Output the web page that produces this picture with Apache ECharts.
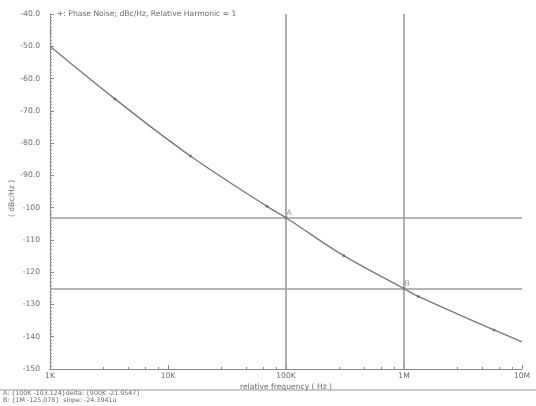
<!DOCTYPE html>
<html><head><meta charset="utf-8">
<script src="https://cdn.jsdelivr.net/npm/echarts@6/dist/echarts.min.js"></script>
<style>html,body{margin:0;padding:0;background:#fff}#c{width:536px;height:406px}</style>
</head><body><div id="c"></div>
<script>
// Data
const freqs = [1e3, 3.55e3, 15.5e3, 69e3, 1e5, 309e3, 1e6, 1.32e6, 5.8e6, 1e7];
const noise = [-50, -66.3, -84.0, -99.6, -103.124, -114.9, -125.078, -127.5, -137.9, -141.6];
const markerFreqs = [3.55e3, 15.5e3, 69e3, 309e3, 1.32e6, 5.8e6];
const markerNoise = [-66.3, -84.0, -99.6, -114.9, -127.5, -137.9];
const cursorNames = ['A', 'B'];
const cursorFreqs = [1e5, 1e6];
const cursorNoise = [-103.124, -125.078];
const xTickLabels = {1e3: '1K', 1e4: '10K', 1e5: '100K', 1e6: '1M', 1e7: '10M'};
const titleText = '+: Phase Noise; dBc/Hz, Relative Harmonic = 1';
const footA = 'A: {100K -103.124}delta: {900K -21.9547}';
const footB = 'B: {1M -125.078}  slope: -24.3941u';

const FONT = 'DejaVu Sans';
const TXT = '#6a6a6a';
const chart = echarts.init(document.getElementById('c'));
chart.setOption({
  animation: false,
  backgroundColor: '#fff',
  title: {text: titleText, left: 52, top: 5,
    textStyle: {fontFamily: FONT, fontSize: 7.6, fontWeight: 'normal', color: TXT}},
  grid: {left: 50, right: 14, top: 14, bottom: 37, containLabel: false, outerBoundsMode: 'none'},
  xAxis: {
    type: 'log', logBase: 10, min: 1e3, max: 1e7,
    name: 'relative frequency ( Hz )', nameLocation: 'middle', nameGap: 14, nameMoveOverlap: false,
    nameTextStyle: {fontFamily: FONT, fontSize: 7.6, color: TXT},
    axisLine: {lineStyle: {color: '#888', width: 1}},
    axisTick: {inside: true, length: 4, lineStyle: {color: '#888'}},
    minorTick: {show: true, splitNumber: 5, length: 2, lineStyle: {color: '#999'}},
    axisLabel: {fontFamily: FONT, fontSize: 7.6, color: TXT, margin: 3,
      formatter: v => xTickLabels[Math.round(v)] || ''},
    splitLine: {show: false}
  },
  yAxis: {
    type: 'value', min: -150, max: -40, interval: 10,
    name: '( dBc/Hz )', nameLocation: 'middle', nameGap: 34, nameRotate: 90, nameMoveOverlap: false,
    nameTextStyle: {fontFamily: FONT, fontSize: 7.6, color: TXT, padding: [0, 0, 0, -14]},
    axisLine: {show: true, lineStyle: {color: '#888', width: 1}},
    axisTick: {show: true, inside: true, length: 4, lineStyle: {color: '#888'}},
    minorTick: {show: true, splitNumber: 10, length: 2, lineStyle: {color: '#999'}},
    axisLabel: {fontFamily: FONT, fontSize: 7.6, color: TXT, margin: 10,
      formatter: v => v > -100 ? v.toFixed(1) : String(v)},
    splitLine: {show: false}
  },
  series: [
    {
      type: 'line', smooth: 0.4, showSymbol: false, symbol: 'none',
      data: freqs.map((f, i) => [f, noise[i]]),
      lineStyle: {color: '#7a7a7a', width: 1.4},
      markLine: {
        silent: true, symbol: 'none', label: {show: false},
        lineStyle: {color: '#9c9c9c', width: 1.6, type: 'solid'},
        data: cursorFreqs.map(f => ({xAxis: f})).concat(cursorNoise.map(v => ({yAxis: v})))
      },
      z: 3
    },
    {
      type: 'scatter', symbol: 'circle', symbolSize: 3,
      itemStyle: {color: '#666'},
      data: markerFreqs.map((f, i) => [f, markerNoise[i]]), z: 4
    },
    {
      type: 'scatter', symbol: 'rect', symbolSize: 3,
      itemStyle: {color: '#777'},
      data: cursorFreqs.map((f, i) => ({value: [f, cursorNoise[i]], name: cursorNames[i]})),
      label: {show: true, position: [2, -7], formatter: p => p.name,
        fontFamily: FONT, fontSize: 7.6, color: '#777'},
      z: 5
    }
  ],
  graphic: [
    {type: 'line', shape: {x1: 0, y1: 390, x2: 536, y2: 390}, style: {stroke: '#999', lineWidth: 1}},
    {type: 'text', left: 3, top: 390, style: {text: footA, font: '6.3px "DejaVu Sans"', fill: TXT}},
    {type: 'text', left: 3, top: 397.5, style: {text: footB, font: '6.3px "DejaVu Sans"', fill: TXT}}
  ]
});
</script></body></html>
